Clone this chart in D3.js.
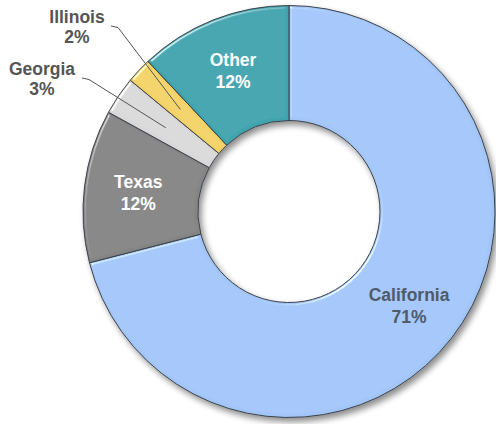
<!DOCTYPE html>
<html>
<head>
<meta charset="utf-8">
<script src="https://cdn.jsdelivr.net/npm/d3@7"></script>
<style>
  html, body { margin: 0; padding: 0; background: #fff; }
  svg { display: block; }
  text { font-family: "Liberation Sans", Arial, sans-serif; font-weight: bold; }
</style>
</head>
<body>
<svg id="chart" width="496" height="424"></svg>
<script>
// Share of total by state, clockwise from 12 o'clock
const states = ["California", "Texas", "Georgia", "Illinois", "Other"];
const shares = [71, 12, 3, 2, 12];
const colors = ["#a2c5f8", "#848484", "#d8d8d8", "#f2d266", "#3fa4ae"];
// Labels drawn inside the ring (white on dark slices) vs. outside with leader lines
const labelMode = ["inside", "inside", "outside", "outside", "inside"];
const labelColor = ["#4f5b69", "#ffffff", "#555555", "#555555", "#ffffff"];
// Outside label anchor points (label centre x, first baseline y)
const outsideLabelPos = { Georgia: [42, 75], Illinois: [77, 23] };

const data = states.map((s, i) => ({ state: s, value: shares[i], color: colors[i], mode: labelMode[i], tcolor: labelColor[i] }));

const width = 496, height = 424;
const cx = 289, cy = 211.5;
const outerR = 206, innerR = 91;
const fontSize = 17.5;

const svg = d3.select("#chart");
const defs = svg.append("defs");

// soft drop shadow under the ring
const shadow = defs.append("filter").attr("id", "shadow")
  .attr("x", "-20%").attr("y", "-20%").attr("width", "140%").attr("height", "140%");
shadow.append("feGaussianBlur").attr("in", "SourceAlpha").attr("stdDeviation", 3).attr("result", "b");
shadow.append("feOffset").attr("in", "b").attr("dx", 3).attr("dy", 4).attr("result", "o");
shadow.append("feComponentTransfer").attr("in", "o").attr("result", "s")
  .append("feFuncA").attr("type", "linear").attr("slope", 0.45);
const sm = shadow.append("feMerge");
sm.append("feMergeNode").attr("in", "s");
sm.append("feMergeNode").attr("in", "SourceGraphic");

// bevel highlight on each slice, lit from the upper left
const bevel = defs.append("filter").attr("id", "bevel")
  .attr("x", "-5%").attr("y", "-5%").attr("width", "110%").attr("height", "110%");
bevel.append("feGaussianBlur").attr("in", "SourceAlpha").attr("stdDeviation", 1.6).attr("result", "blur");
const spec = bevel.append("feSpecularLighting").attr("in", "blur")
  .attr("surfaceScale", 3).attr("specularConstant", 0.8).attr("specularExponent", 30)
  .attr("lighting-color", "#ffffff").attr("result", "spec");
spec.append("feDistantLight").attr("azimuth", 225).attr("elevation", 35);
bevel.append("feComposite").attr("in", "spec").attr("in2", "SourceAlpha").attr("operator", "in").attr("result", "specIn");
bevel.append("feComposite").attr("in", "SourceGraphic").attr("in2", "specIn")
  .attr("operator", "arithmetic").attr("k1", 0).attr("k2", 1).attr("k3", 0.8).attr("k4", 0);

const pie = d3.pie().value(d => d.value).sort(null);
const arc = d3.arc().innerRadius(innerR).outerRadius(outerR);
const labelArc = d3.arc().innerRadius(152).outerRadius(152);
const leaderArc = d3.arc().innerRadius(149).outerRadius(149);

const arcs = pie(data);

const g = svg.append("g").attr("transform", `translate(${cx},${cy})`);
const ring = g.append("g").attr("filter", "url(#shadow)");

ring.selectAll("path.slice")
  .data(arcs)
  .join("path")
  .attr("class", "slice")
  .attr("d", arc)
  .attr("fill", d => d.data.color)
  .attr("filter", "url(#bevel)")
  .attr("stroke", "#3c4148")
  .attr("stroke-width", 1)
  .attr("stroke-linejoin", "round");

// inside labels
arcs.filter(d => d.data.mode === "inside").forEach(d => {
  const [x, y] = labelArc.centroid(d);
  const t = g.append("text")
    .attr("text-anchor", "middle")
    .attr("fill", d.data.tcolor)
    .attr("font-size", fontSize);
  t.append("tspan").attr("x", x).attr("y", y - 4).text(d.data.state);
  t.append("tspan").attr("x", x).attr("y", y + 18).text(d.data.value + "%");
});

// outside labels with leader lines
arcs.filter(d => d.data.mode === "outside").forEach(d => {
  const [lx, ly] = outsideLabelPos[d.data.state];
  const [px, py] = leaderArc.centroid(d);
  const t = svg.append("text")
    .attr("text-anchor", "middle")
    .attr("fill", d.data.tcolor)
    .attr("font-size", fontSize);
  t.append("tspan").attr("x", lx).attr("y", ly).text(d.data.state);
  t.append("tspan").attr("x", lx).attr("y", ly + 20).text(d.data.value + "%");
  const sx = lx + (d.data.state === "Illinois" ? 34 : 40);
  const sy = ly + 3;
  svg.append("polyline")
    .attr("points", `${sx},${sy} ${sx + 7},${sy + 1.5} ${cx + px},${cy + py}`)
    .attr("fill", "none")
    .attr("stroke", "#555")
    .attr("stroke-width", 1);
});
</script>
</body>
</html>
